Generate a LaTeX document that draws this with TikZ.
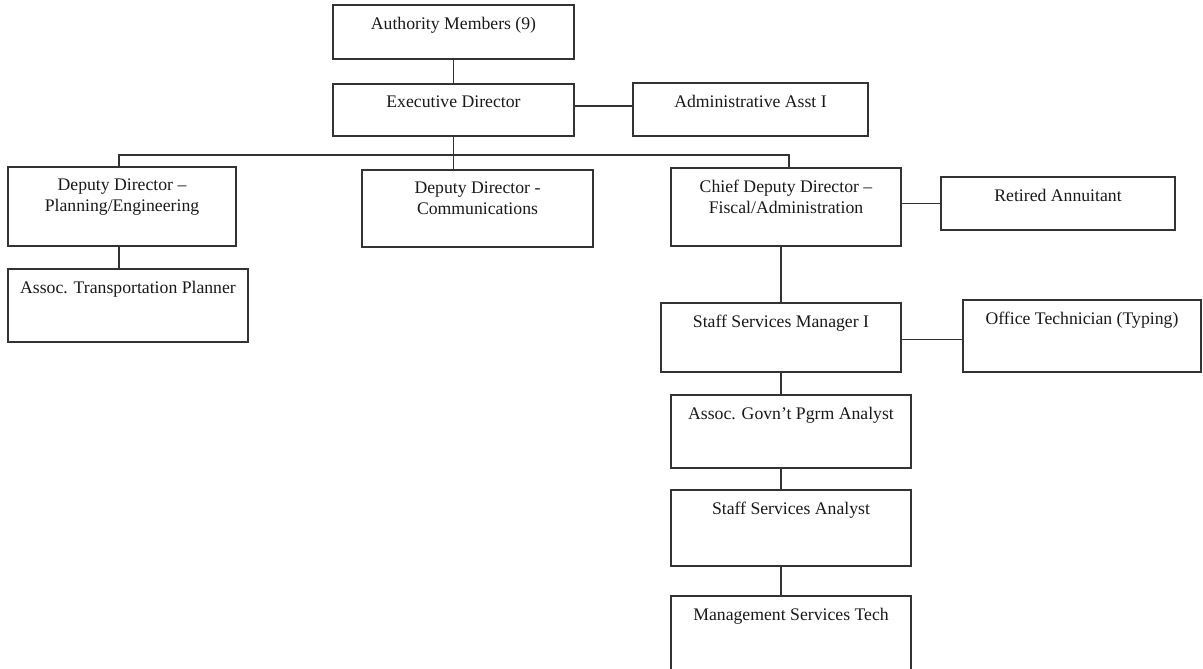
\documentclass[tikz,border=0pt]{standalone}
\usepackage{fontspec}
\setmainfont{Liberation Serif}
\begin{document}
\begin{tikzpicture}[x=1pt,y=-1pt,
  unit/.style={draw=black!80, line width=1.2pt, rectangle, anchor=north west,
               inner sep=0pt, outer sep=0pt},
  caption/.style={anchor=north, inner sep=0pt, align=center, text=black!90,
                  font=\fontsize{17.7pt}{21pt}\selectfont},
  link/.style={draw=black!80, line width=1.2pt}]

\useasboundingbox (0,0) rectangle (1203,669);

% organisation units (top-left corner, width, height)
\node[unit, minimum width=241pt, minimum height=54pt] (auth)  at (333,5)     {};
\node[unit, minimum width=241pt, minimum height=52pt] (exec)  at (333,84)    {};
\node[unit, minimum width=235pt, minimum height=53pt] (admin) at (633,83)    {};
\node[unit, minimum width=228pt, minimum height=79pt] (ddpe)  at (8,167)     {};
\node[unit, minimum width=231pt, minimum height=77pt] (comm)  at (362,170)   {};
\node[unit, minimum width=230pt, minimum height=78pt] (chief) at (671,168)   {};
\node[unit, minimum width=234pt, minimum height=53pt] (ra)    at (941,177)   {};
\node[unit, minimum width=240pt, minimum height=73pt] (atp)   at (8,269)     {};
\node[unit, minimum width=240pt, minimum height=69pt] (ssm)   at (661,303)   {};
\node[unit, minimum width=238pt, minimum height=72pt] (ot)    at (963,300)   {};
\node[unit, minimum width=240pt, minimum height=73pt] (agpa)  at (671,395)   {};
\node[unit, minimum width=240pt, minimum height=76pt] (ssa)   at (671,490)   {};
\node[unit, minimum width=240pt, minimum height=76pt] (mst)   at (671,596)   {};

% titles, set near the top edge of each unit
\node[caption] (authT)  at ([yshift=-12pt]auth.north)  {Authority Members (9)};
\node[caption] (execT)  at ([yshift=-12pt]exec.north)  {Executive Director};
\node[caption] (adminT) at ([yshift=-12pt]admin.north) {Administrative Asst I};
\node[caption] (ddpeT)  at ([yshift=-12pt]ddpe.north)  {Deputy Director –\\Planning/Engineering};
\node[caption] (commT)  at ([yshift=-12pt]comm.north)  {Deputy Director -\\Communications};
\node[caption] (chiefT) at ([yshift=-12pt]chief.north) {Chief Deputy Director –\\Fiscal/Administration};
\node[caption] (raT)    at ([yshift=-12pt]ra.north)    {Retired Annuitant};
\node[caption] (atpT)   at ([yshift=-12pt]atp.north)   {Assoc. Transportation Planner};
\node[caption] (ssmT)   at ([yshift=-12pt]ssm.north)   {Staff Services Manager I};
\node[caption] (otT)    at ([yshift=-12pt]ot.north)    {Office Technician (Typing)};
\node[caption] (agpaT)  at ([yshift=-12pt]agpa.north)  {Assoc. Govn’t Pgrm Analyst};
\node[caption] (ssaT)   at ([yshift=-12pt]ssa.north)   {Staff Services Analyst};
\node[caption] (mstT)   at ([yshift=-12pt]mst.north)   {Management Services Tech};

% reporting lines
\coordinate (bus) at (453.5,155);
\draw[link] (auth.south) -- (exec.north);
\draw[link] ([yshift=4pt]exec.east) -- ([yshift=4pt]exec.east -| admin.west);
\draw[link] (exec.south) -- (exec.south |- comm.north);
\draw[link] ([xshift=-3pt]ddpe.north) |- (bus) -| ([xshift=3pt]chief.north);
\draw[link] ([xshift=-3pt]ddpe.south) -- ([xshift=-3pt]ddpe.south |- atp.north);
\draw[link] (ra.west -| chief.east) -- (ra.west);
\draw[link] (chief.south -| ssm.north) -- (ssm.north);
\draw[link] ([yshift=-2pt]ssm.east) -- ([yshift=-2pt]ssm.east -| ot.west);
\draw[link] (ssm.south) -- (ssm.south |- agpa.north);
\draw[link] (agpa.south -| ssm.south) -- (ssa.north -| ssm.south);
\draw[link] (ssa.south -| ssm.south) -- (mst.north -| ssm.south);

\end{tikzpicture}
\end{document}
